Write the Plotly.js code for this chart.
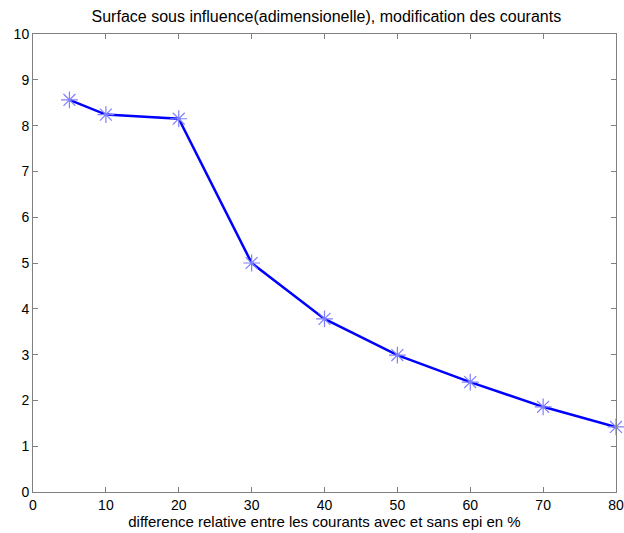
<!DOCTYPE html>
<html><head><meta charset="utf-8">
<script src="https://cdn.plot.ly/plotly-3.0.1.min.js"></script>
<style>body{margin:0;background:#fff}#c{width:624px;height:533px}</style>
</head><body><div id="c"></div>
<script>
const xValues = [5, 10, 20, 30, 40, 50, 60, 70, 80];
const yValues = [8.56, 8.24, 8.15, 5.0, 3.78, 2.99, 2.40, 1.86, 1.42];
const xTicks = [0, 10, 20, 30, 40, 50, 60, 70, 80];
const yTicks = [0, 1, 2, 3, 4, 5, 6, 7, 8, 9, 10];

const family = 'Liberation Sans, Arial, sans-serif';
const tickFont = {family: family, size: 14, color: '#000'};
const labelFont = {family: family, size: 15, color: '#000'};
Plotly.newPlot('c', [{
  x: xValues, y: yValues, type: 'scatter', mode: 'lines',
  line: {color: '#0000ff', width: 2.5}, hoverinfo: 'skip', cliponaxis: false
}, {
  x: xValues, y: yValues, type: 'scatter', mode: 'markers',
  marker: {symbol: 'asterisk-open', size: 14, line: {color: '#7f7fff', width: 1.2}, color: '#7f7fff'},
  hoverinfo: 'skip', cliponaxis: false
}], {
  width: 624, height: 533, showlegend: false,
  margin: {l: 33, r: 8, t: 34, b: 41},
  paper_bgcolor: '#fff', plot_bgcolor: '#fff',
  font: labelFont,
  title: {text: 'Surface sous influence(adimensionelle), modification des courants', font: {family: family, size: 16, color: '#000'}, x: 0.523, xanchor: 'center', y: 0.979, yanchor: 'top'},
  xaxis: {range: [0, 80], tickvals: xTicks, ticktext: xTicks.map(String), ticks: 'inside', ticklen: 5, tickcolor: '#808080',
    ticklabeloverflow: 'allow', automargin: false,
    showline: true, linecolor: '#808080', linewidth: 1, mirror: 'ticks', showgrid: false, zeroline: false,
    title: {text: 'difference relative entre les courants avec et sans epi en %', font: labelFont, standoff: 3}, tickfont: tickFont},
  yaxis: {range: [0, 10], tickvals: yTicks, ticktext: yTicks.map(String), ticks: 'inside', ticklen: 5, tickcolor: '#808080',
    automargin: false,
    showline: true, linecolor: '#808080', linewidth: 1, mirror: 'ticks', showgrid: false, zeroline: false, tickfont: tickFont}
}, {staticPlot: true});
</script></body></html>
